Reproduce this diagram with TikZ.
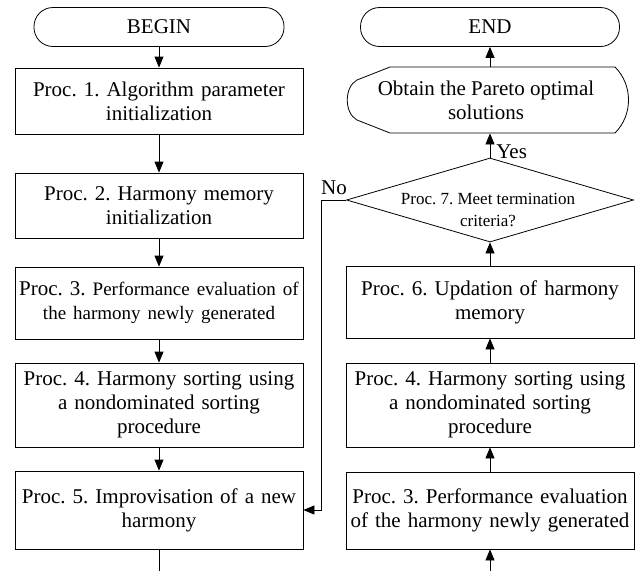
\documentclass[tikz,border=0pt]{standalone}
\usepackage{fontspec}
\setmainfont{Liberation Serif}
\usetikzlibrary{arrows.meta,shapes.geometric}
\frenchspacing
\begin{document}
\begin{tikzpicture}[x=1pt,y=-1pt,
  line width=0.8pt,
  font=\fontsize{21}{24}\selectfont\frenchspacing,
  box/.style={draw, rectangle, minimum width=288pt, text width=288pt, align=center, inner sep=0pt},
  term/.style={draw, rectangle, rounded corners=19pt, inner sep=0pt, minimum height=39pt},
  arr/.style={-{Triangle[length=11pt,width=9pt]}},
  lbl/.style={inner sep=0pt},
  small/.style={font=\fontsize{17}{22}\selectfont\frenchspacing}]
\useasboundingbox (0,0) rectangle (637,571);
% left column
\node[term, minimum width=250pt] (begin) at (159,27) {BEGIN};
\node[box, minimum height=66pt] (p1) at (159,101) {Proc. 1. Algorithm parameter\\initialization};
\node[box, minimum height=65pt] (p2) at (159,205.5) {Proc. 2. Harmony memory\\initialization};
\node[box, minimum height=72pt] (p3) at (159,303) {Proc. 3. {\fontsize{19}{24}\selectfont Performance evaluation of}\\{\fontsize{19}{24}\selectfont the harmony newly generated}};
\node[box, minimum height=84pt] (p4) at (159,405) {Proc. 4. Harmony sorting using\\a nondominated sorting\\procedure};
\node[box, minimum height=78pt] (p5) at (159,510) {Proc. 5. Improvisation of a new\\harmony};
\coordinate (bl) at (159,571);
% right column
\node[term, minimum width=259pt] (end) at (490,27) {END};
\node[lbl, minimum width=283pt, minimum height=66pt, align=center] (obtain) at (486,100) {Obtain the Pareto optimal\\solutions};
\draw (390,67) -- (615,67) .. controls (633,85) and (633,115) .. (615,133) -- (390,133) -- (357,120) .. controls (344,113) and (344,87) .. (357,80) -- cycle;
\node[draw, diamond, minimum width=287pt, minimum height=84pt, inner sep=0pt] (d) at (490,200) {};
\node[small, align=center, inner sep=0pt] (dt) at (488,210) {Proc. 7. Meet termination\\criteria?};
\node[box, minimum height=72pt] (r6) at (490,302) {Proc. 6. Updation of harmony\\memory};
\node[box, minimum height=84pt] (r4) at (490,405) {Proc. 4. Harmony sorting using\\a nondominated sorting\\procedure};
\node[box, minimum height=77pt] (r3) at (490,510.5) {Proc. 3. Performance evaluation\\of the harmony newly generated};
\coordinate (br) at (490,571);
% connectors
\draw[arr] (begin.south) -- (p1.north);
\draw[arr] (p1.south) -- (p2.north);
\draw[arr] (p2.south) -- (p3.north);
\draw[arr] (p3.south) -- (p4.north);
\draw[arr] (p4.south) -- (p5.north);
\draw (p5.south) -- (bl);
\draw[arr] (br) -- (r3.south);
\draw[arr] (r3.north) -- (r4.south);
\draw[arr] (r4.north) -- (r6.south);
\draw[arr] (r6.north) -- (d.south);
\draw[arr] (d.north) -- (d.north |- obtain.south);
\draw[arr] (d.north |- obtain.north) -- (end.south);
\draw[arr] (d.west) -- ++(-25,0) |- (p5.east);
\node[lbl, anchor=west] (yes) at (496,152) {Yes};
\node[lbl] (no) at (334,188) {No};
\end{tikzpicture}
\end{document}
